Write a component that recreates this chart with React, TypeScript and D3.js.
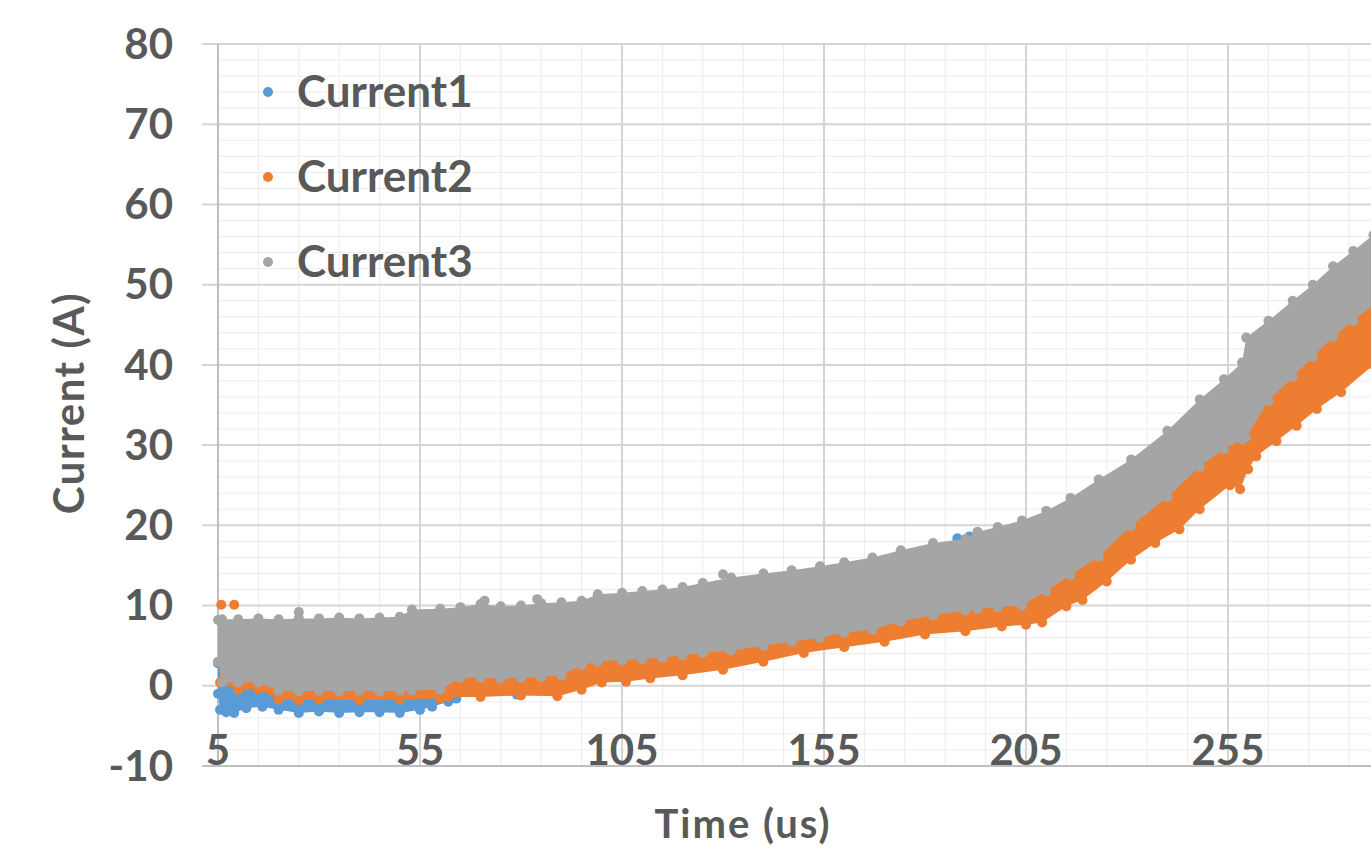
import React from "react";
import * as d3 from "d3";

const Y_TICKS = [-10, 0, 10, 20, 30, 40, 50, 60, 70, 80];
const X_TICKS = [5, 55, 105, 155, 205, 255];
const SERIES_NAMES = ["Current1", "Current2", "Current3"];
const COLORS = ["#5b9bd5", "#ed7d31", "#a5a5a5"];

// Current1 (blue): mostly hidden under the others, shows near the start
const c1Time = [5, 5.5, 7, 9, 12, 16, 20, 25, 30, 35, 40, 45, 50, 55, 58, 62];
const c1Low = [-1.0, -3.0, -3.3, -3.4, -2.8, -2.6, -3.0, -3.4, -3.2, -3.4, -3.3, -3.3, -3.4, -3.0, -2.6, -2.0];
const c1High = [2.8, 2.8, 1.5, 1.0, 1.0, 1.0, 0.5, 0.5, 0.5, 0.5, 0.5, 0.5, 0.5, 0.5, 0.5, 0.5];
const c1Extra = [[64, -1.6], [79, -1.1], [188, 18.4], [191, 18.6]];

// Current2 (orange)
const c2Time = [5.5, 10, 15, 20, 25, 30, 40, 50, 60, 62, 70, 80, 89, 95, 100, 106, 112, 120, 130, 140, 150, 160, 170, 180, 190, 199, 205, 209, 215, 219, 225, 231, 237, 243, 248, 255.5, 258, 260, 262, 267, 272, 277, 283, 291];
const c2Low = [0.4, -0.5, -0.4, -1.7, -1.8, -1.7, -1.8, -1.7, -1.6, -1.4, -1.4, -1.2, -1.3, -0.5, 0.4, 0.5, 0.9, 1.3, 2.0, 3.0, 4.1, 4.8, 5.5, 6.4, 6.8, 7.4, 7.6, 7.9, 9.9, 10.7, 13.0, 15.7, 17.8, 19.5, 22.0, 25.0, 24.5, 27.0, 28.6, 30.5, 32.4, 34.5, 36.6, 40.0];
const c2High = [3.0, 2.4, 2.4, 1.4, 1.3, 1.4, 1.4, 1.4, 1.5, 2.5, 3.0, 3.0, 3.3, 4.6, 5.0, 5.2, 5.4, 5.8, 6.3, 7.0, 7.7, 8.6, 9.5, 10.6, 11.4, 11.8, 12.3, 13.5, 15.5, 17.0, 19.0, 21.9, 24.0, 26.5, 29.3, 31.8, 32.7, 33.5, 36.5, 39.0, 41.0, 43.5, 46.0, 49.5];
const c2Extra = [[5.8, 10.1], [9, 10.1]];

// Current3 (grey), drawn on top
const c3Time = [5, 6, 10, 15, 20, 25, 30, 35, 40, 45, 50, 53, 60, 65, 70, 75, 80, 85, 90, 95, 99, 105, 110, 115, 120, 125, 132, 140, 147, 154, 160, 167, 174, 182, 190, 193, 198, 204, 210, 216, 223, 231, 240, 248, 254, 258.5, 259.5, 265, 271, 276, 281, 286, 291];
const c3Low = [3.0, 0.4, 0.4, 0.4, -0.6, -0.7, -0.6, -0.7, -0.6, -0.7, -0.6, -0.6, -0.5, 1.0, 1.0, 0.9, 1.0, 1.1, 1.3, 2.6, 3.0, 3.2, 3.3, 3.5, 3.8, 4.1, 4.4, 5.0, 5.5, 6.0, 6.6, 7.0, 8.0, 8.8, 9.4, 9.6, 9.8, 10.0, 11.8, 13.8, 16.1, 19.9, 23.5, 27.3, 29.5, 30.7, 31.0, 35.5, 38.5, 41.0, 43.5, 45.5, 47.5];
const c3High = [8.2, 8.3, 8.3, 8.4, 8.3, 8.4, 8.4, 8.5, 8.4, 8.5, 8.6, 9.5, 9.6, 9.8, 10.2, 9.9, 10.0, 10.3, 10.4, 10.6, 11.4, 11.6, 11.8, 12.0, 12.3, 12.8, 13.5, 14.0, 14.4, 14.9, 15.4, 16.0, 16.9, 17.8, 18.3, 19.2, 19.8, 20.6, 21.8, 23.4, 25.7, 28.2, 31.8, 35.7, 38.2, 40.3, 43.4, 45.5, 48.0, 50.0, 52.3, 54.2, 56.2];
const c3Extra = [[25, 9.2], [71, 10.6], [84, 10.8], [130, 13.9]];

const WIDTH = 1371;
const HEIGHT = 853;
const TEXT = "#595959";
const FONT = "Lato, 'Open Sans', sans-serif";

const x = d3.scaleLinear().domain([5, 255]).range([218, 1228]);
const y = d3.scaleLinear().domain([-10, 80]).range([766, 44]);

const band = (t: number[], lo: number[], hi: number[]) =>
  t.map((v, i) => ({ t: v, lo: lo[i], hi: hi[i] }));

const SERIES = [
  { band: band(c1Time, c1Low, c1High), extra: c1Extra },
  { band: band(c2Time, c2Low, c2High), extra: c2Extra },
  { band: band(c3Time, c3Low, c3High), extra: c3Extra },
];

const area = d3
  .area<{ t: number; lo: number; hi: number }>()
  .x((d) => x(d.t))
  .y0((d) => y(d.lo))
  .y1((d) => y(d.hi));

const App = () => {
  const left = x(5);
  const right = WIDTH;
  const minorY = d3.range(-10, 81, 2).filter((v) => v % 10 !== 0);
  const minorX = d3.range(15, 300, 10).filter((v) => (v - 5) % 50 !== 0);
  const majorX = d3.range(55, 300, 50);

  return (
    <svg
      width={WIDTH}
      height={HEIGHT}
      style={{ position: "absolute", left: 0, top: 0, background: "#fff" }}
    >
      {/* grid */}
      {minorY.map((v) => (
        <line key={"my" + v} x1={left} x2={right} y1={y(v)} y2={y(v)} stroke="#ececec" strokeWidth={1} />
      ))}
      {minorX.map((v) => (
        <line key={"mx" + v} x1={x(v)} x2={x(v)} y1={y(80)} y2={y(-10)} stroke="#ececec" strokeWidth={1} />
      ))}
      {Y_TICKS.filter((v) => v !== -10).map((v) => (
        <line key={"gy" + v} x1={left - 16} x2={right} y1={y(v)} y2={y(v)} stroke="#d4d4d4" strokeWidth={2} />
      ))}
      {majorX.map((v) => (
        <line key={"gx" + v} x1={x(v)} x2={x(v)} y1={y(80)} y2={y(-10)} stroke="#d4d4d4" strokeWidth={2} />
      ))}
      <line x1={left} x2={left} y1={y(80)} y2={y(-10)} stroke="#bfbfbf" strokeWidth={2} />
      <line x1={left - 16} x2={right} y1={y(-10)} y2={y(-10)} stroke="#bfbfbf" strokeWidth={2} />

      {/* series */}
      {SERIES.map((s, i) => (
        <g key={"s" + i} fill={COLORS[i]}>
          <path d={area(s.band) || ""} />
          {s.band.map((d, j) => (
            <g key={j}>
              <circle cx={x(d.t)} cy={y(d.lo)} r={5} />
              <circle cx={x(d.t)} cy={y(d.hi)} r={5} />
            </g>
          ))}
          {s.extra.map((d, j) => (
            <circle key={"e" + j} cx={x(d[0])} cy={y(d[1])} r={5} />
          ))}
        </g>
      ))}

      {/* axis labels */}
      <g fontFamily={FONT} fontWeight={700} fill={TEXT} fontSize={42}>
        {Y_TICKS.map((v) => (
          <text key={"yl" + v} x={173} y={y(v)} dy="0.35em" textAnchor="end">
            {v}
          </text>
        ))}
        {X_TICKS.map((v) => (
          <text key={"xl" + v} x={x(v)} y={765} textAnchor="middle">
            {v}
          </text>
        ))}
        <text
          transform={`translate(84, 403) rotate(-90)`}
          textAnchor="middle"
          letterSpacing={1.5}
        >
          Current (A)
        </text>
        <text x={743} y={838} textAnchor="middle" fontSize={40} letterSpacing={2}>
          Time (us)
        </text>
      </g>

      {/* legend */}
      <g fontFamily={FONT} fontWeight={700} fill={TEXT} fontSize={44}>
        {SERIES_NAMES.map((name, i) => (
          <g key={name} transform={`translate(268, ${92 + i * 85})`}>
            <circle r={5} fill={COLORS[i]} />
            <text x={29} dy="0.35em">
              {name}
            </text>
          </g>
        ))}
      </g>
    </svg>
  );
};

export default App;
